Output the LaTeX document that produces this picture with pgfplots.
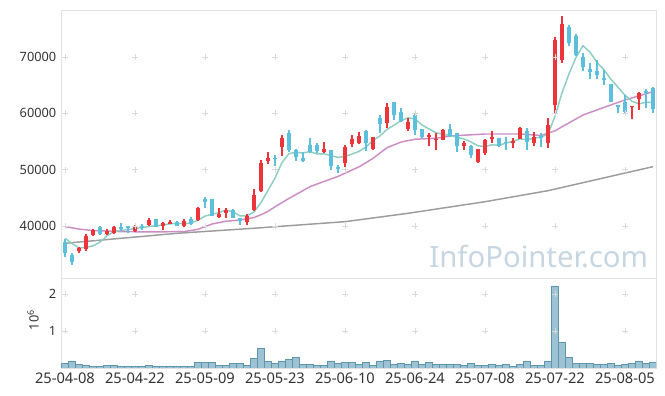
\documentclass[border=0pt]{standalone}
\usepackage{fontspec}
\setmainfont{Noto Sans}
\usepackage{pgfplots}
\pgfplotsset{compat=1.18}
\usepackage{pgfplotstable}
\definecolor{upc}{HTML}{EC353B}
\definecolor{dnc}{HTML}{5CBFDB}
\definecolor{mafive}{HTML}{8DCDC2}
\definecolor{matwenty}{HTML}{CC8DC5}
\definecolor{masixty}{HTML}{9C9C9C}
\definecolor{volf}{HTML}{9DC2D3}
\definecolor{vold}{HTML}{5E96AE}
\definecolor{framec}{HTML}{E2E2E2}
\definecolor{wm}{HTML}{C6D6E2}
\definecolor{gridc}{HTML}{D9D9D9}

\pgfplotstableread{
i o h l c
2 35616 36326 35260 36042
3 35864 38527 35616 38225
4 38402 39467 38225 39290
6 38527 39467 38350 39112
7 38704 40000 38527 39876
10 39166 40180 38990 39770
12 40180 41360 40000 41065
14 40000 40770 39290 40480
15 40355 41065 40300 40770
17 40000 41190 39770 40890
19 41065 43320 40890 43140
22 41650 43140 41370 42130
23 42360 43140 41370 42840
26 40770 42130 40180 41830
27 42840 46510 42720 45500
28 46270 51720 46090 51240
29 51590 53080 50950 52120
31 54080 56150 52480 55570
37 53080 54860 52900 53670
40 51240 54380 50530 53970
41 54500 56150 53970 55440
42 54680 56620 54500 55980
44 53610 55850 53490 55850
46 58230 61780 57450 61180
49 57220 59120 56920 58410
52 55740 56560 54200 56150
53 55200 56450 53490 55260
54 55260 57220 55200 57040
57 54250 55030 53490 54680
59 51410 53730 51240 53670
60 53010 55380 52600 55260
61 55440 56860 54680 55850
64 54680 55620 53850 55150
65 55440 57630 55380 57450
67 54820 56620 54200 55740
69 54680 59120 53790 57930
70 61480 73600 60000 73010
71 69460 77280 68990 75860
81 61060 61360 58940 61360
82 62540 63840 60590 63550
}\up

\pgfplotstableread{
i o h l c
0 37213 37640 34550 35154
1 34850 35200 33077 33663
5 39876 39950 38450 38527
8 39760 40480 39170 39410
9 40000 40000 38810 39700
11 40000 40420 39350 39700
13 41190 41190 39880 39880
16 40770 40850 40000 40050
18 41300 41600 40180 40355
20 44740 45100 43140 44310
21 44790 44850 41690 41830
24 42840 43020 41360 41360
25 41480 41480 40180 40890
30 52120 52600 50700 51840
32 56450 56980 53200 53490
33 53490 53610 51540 52300
34 52000 53140 51420 51590
35 54380 55570 52900 53190
36 54380 54680 52900 53310
38 53490 53490 49940 50650
39 50420 50830 49460 50120
43 56860 57040 53370 54680
45 59120 59700 56560 58050
47 61960 62060 58820 59700
48 60290 60880 58410 58690
50 59700 60000 56150 57040
51 57220 57300 55700 55850
55 57220 58100 55850 56030
56 56560 56560 53200 54250
58 54250 54300 52010 52600
62 55570 55570 53970 54200
63 54960 55740 53490 54680
66 56920 57340 53490 54960
68 55970 56450 54080 55570
72 75380 75680 71950 72570
73 73720 74070 70170 70350
74 70050 70650 67600 68160
75 67870 68880 66040 67390
76 67520 69460 66040 66720
77 66320 67690 65030 65920
78 65200 65200 61960 61960
79 61480 61480 60000 61180
80 61960 63250 60000 60290
83 64050 64260 60890 63550
84 64440 64730 60000 60710
}\down

\pgfplotstableread{
i v
0 37820
1 36900
2 36100
3 36200
4 36475
5 37149
6 38239
7 39006
8 39243
9 39325
10 39574
11 39691
12 39929
13 40023
14 40179
15 40379
16 40449
17 40414
18 40509
19 41041
20 41749
21 42105
22 42353
23 42850
24 42494
25 41810
26 41810
27 42484
28 44164
29 46316
30 48506
31 51254
32 52852
33 53064
34 52958
35 53228
36 52776
37 52812
38 52482
39 52188
40 52344
41 52770
42 53232
43 54038
44 55184
45 56000
46 57148
47 57892
48 58694
49 59206
50 59004
51 57938
52 57228
53 56542
54 56268
55 56066
56 55746
57 55452
58 54920
59 54246
60 54092
61 54412
62 54316
63 54732
64 55028
65 55466
66 55288
67 55596
68 55774
69 56330
70 59442
71 63622
72 66988
73 69944
74 71990
75 70866
76 69038
77 67708
78 66030
79 64634
80 63214
81 62142
82 61668
83 61986
84 61892
}\mafive

\pgfplotstableread{
i v
0 39900
2 39450
4 39200
8 39000
12 38950
17 39000
19 39400
21 40350
23 40850
25 41060
27 41500
28 42000
29 42600
30 43400
32 44900
35 46980
37 47900
39 48800
42 50500
44 52000
46 53900
48 54900
50 55400
53 55570
55 55970
60 56330
65 56330
68 56060
70 56900
72 58300
74 59700
77 61050
80 62370
84 63840
}\matwenty

\pgfplotstableread{
i v
0 36930
16 38700
27 39600
40 40770
49 42250
60 44310
69 46270
84 50530
}\masixty

\pgfplotstableread{
i v
0 0.127
1 0.19
2 0.10
3 0.073
4 0.045
5 0.045
6 0.07
7 0.07
8 0.045
9 0.045
10 0.045
11 0.045
12 0.07
13 0.045
14 0.045
15 0.045
16 0.045
17 0.045
18 0.045
19 0.16
20 0.16
21 0.16
22 0.07
23 0.07
24 0.127
25 0.127
26 0.07
27 0.26
28 0.53
29 0.19
30 0.127
31 0.19
32 0.235
33 0.29
34 0.10
35 0.10
36 0.07
37 0.07
38 0.19
39 0.127
40 0.16
41 0.16
42 0.10
43 0.16
44 0.07
45 0.19
46 0.216
47 0.10
48 0.127
49 0.10
50 0.19
51 0.10
52 0.16
53 0.10
54 0.10
55 0.10
56 0.10
57 0.07
58 0.127
59 0.07
60 0.07
61 0.10
62 0.07
63 0.10
64 0.04
65 0.10
66 0.19
67 0.07
68 0.07
69 0.19
70 2.216
71 0.70
72 0.29
73 0.127
74 0.127
75 0.127
76 0.10
77 0.10
78 0.127
79 0.07
80 0.10
81 0.127
82 0.19
83 0.127
84 0.16
}\vol

\begin{document}
\begin{tikzpicture}
\path[use as bounding box] (0,0) rectangle (498.75pt,297pt);
\pgfplotsset{
  every axis/.append style={
    scale only axis, width=446.25pt,
    xmin=-0.571, xmax=84.43,
    axis line style={framec, line width=0.6pt},
    major tick length=0pt,
    scaled ticks=false,
    yticklabel style={font=\fontsize{9.6pt}{11pt}\selectfont, text=black!80},
    xticklabel style={font=\fontsize{11pt}{13pt}\selectfont, text=black!80},
    clip=true,
  },
  candle/.style 2 args={draw=none, mark=none, forget plot,
    error bars/.cd, y dir=plus, y explicit, error mark=none,
    error bar style={draw=#1, solid, line width=#2}},
}
% ---------- main price panel ----------
\begin{axis}[
  at={(45.75pt,88.5pt)}, anchor=south west,
  height=201pt,
  ymin=30770, ymax=78340,
  ytick={40000,50000,60000,70000},
  yticklabels={40000,50000,60000,70000},
  xtick={0,10,...,80}, xticklabels={},
]
\addplot[only marks, mark=+, mark size=2.2pt, gridc, mark options={line width=0.6pt}] coordinates {
(0,40000)(10,40000)(20,40000)(30,40000)(40,40000)(50,40000)(60,40000)(70,40000)(80,40000)
(0,50000)(10,50000)(20,50000)(30,50000)(40,50000)(50,50000)(60,50000)(70,50000)(80,50000)
(0,60000)(10,60000)(20,60000)(30,60000)(40,60000)(50,60000)(60,60000)(70,60000)(80,60000)
(0,70000)(10,70000)(20,70000)(30,70000)(40,70000)(50,70000)(60,70000)(70,70000)(80,70000)};
\node[font=\fontsize{22pt}{25pt}\selectfont, text=wm, anchor=center] at (rel axis cs:0.803,0.082) {InfoPointer.com};
\addplot[masixty, line width=1.1pt] table[x=i,y=v] {\masixty};
\addplot[matwenty, line width=1.1pt] table[x=i,y=v] {\matwenty};
\addplot[mafive, line width=1.1pt] table[x=i,y=v] {\mafive};
% wicks
\addplot[candle={upc}{0.8pt}]
  table[x=i, y=l, y error plus expr=\thisrow{h}-\thisrow{l}] {\up};
\addplot[candle={dnc}{0.8pt}]
  table[x=i, y=l, y error plus expr=\thisrow{h}-\thisrow{l}] {\down};
% bodies
\addplot[candle={upc}{3.4pt}]
  table[x=i, y=o, y error plus expr={max(\thisrow{c}-\thisrow{o},170)}] {\up};
\addplot[candle={dnc}{3.4pt}]
  table[x=i, y=c, y error plus expr={max(\thisrow{o}-\thisrow{c},170)}] {\down};
\end{axis}
% ---------- volume panel ----------
\begin{axis}[
  at={(45.75pt,21pt)}, anchor=south west,
  height=67.5pt,
  ymin=0, ymax=2.432,
  ytick={1,2}, yticklabels={1,2},
  xtick={0,10,...,80},
  xticklabels={25-04-08,25-04-22,25-05-09,25-05-23,25-06-10,25-06-24,25-07-08,25-07-22,25-08-05},
  ylabel={10\textsuperscript{6}},
  ylabel style={at={(axis description cs:-0.047,0.533)}, anchor=center, font=\fontsize{9.6pt}{11pt}\selectfont, text=black!80},
]
\addplot[only marks, mark=+, mark size=2.2pt, gridc, mark options={line width=0.6pt}] coordinates {
(0,1)(10,1)(20,1)(30,1)(40,1)(50,1)(60,1)(70,1)(80,1)
(0,2)(10,2)(20,2)(30,2)(40,2)(50,2)(60,2)(70,2)(80,2)};
\addplot[ybar, bar width=5.25pt, bar shift=0pt, fill=volf, draw=vold, line width=0.5pt] table[x=i,y=v] {\vol};
\end{axis}
\end{tikzpicture}
\end{document}
